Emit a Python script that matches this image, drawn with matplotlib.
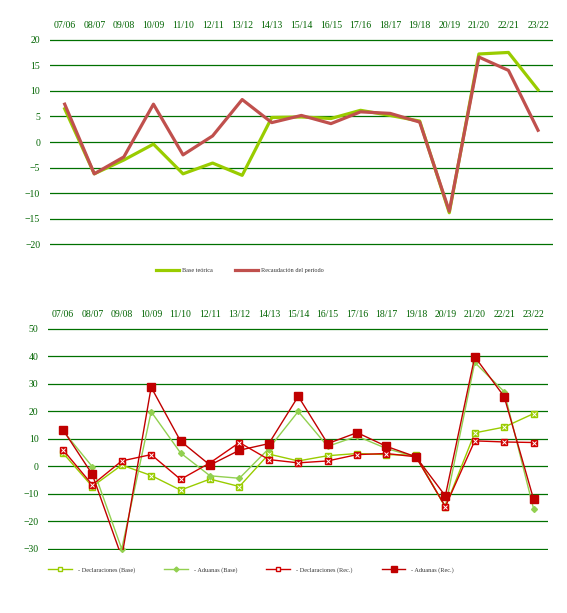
import matplotlib.pyplot as plt
from matplotlib.lines import Line2D

periodos = ["07/06", "08/07", "09/08", "10/09", "11/10", "12/11", "13/12", "14/13", "15/14",
            "16/15", "17/16", "18/17", "19/18", "20/19", "21/20", "22/21", "23/22"]

# grafico superior
base_teorica = [6.5, -6.2, -3.5, -0.4, -6.2, -4.1, -6.5, 4.8, 4.9, 4.6, 6.2, 5.2, 4.1, -13.8, 17.2, 17.5, 10.2]
recaudacion = [7.4, -6.2, -2.9, 7.4, -2.5, 1.2, 8.3, 3.8, 5.2, 3.6, 5.9, 5.6, 3.9, -13.5, 16.6, 14.0, 2.3]

# grafico inferior
decl_base = [4.9, -7.3, 0.5, -3.3, -8.6, -4.6, -7.3, 4.5, 2.0, 3.9, 4.7, 4.3, 4.1, -14.8, 12.2, 14.3, 19.2]
adu_base = [13.0, -0.1, -30.0, 19.9, 4.9, -3.4, -4.3, 6.5, 20.0, 7.3, 11.0, 6.5, 3.5, -14.6, 37.8, 27.2, -15.4]
decl_rec = [6.1, -6.7, 2.0, 4.3, -4.7, 1.3, 8.7, 2.5, 1.3, 2.0, 4.3, 4.7, 3.5, -14.6, 9.3, 8.9, 8.7]
adu_rec = [13.4, -2.9, -33.0, 28.8, 9.2, 0.5, 5.9, 8.3, 25.5, 8.3, 12.3, 7.3, 3.5, -10.7, 39.9, 25.4, -11.9]

VERDE_TXT = "#006400"
VERDE_GRID = "#007000"
plt.rcParams['font.family'] = ['Liberation Serif', 'DejaVu Serif']

fig = plt.figure(figsize=(5.67, 6.13), dpi=100)
x = list(range(len(periodos)))


def preparar(ax, ymin, ymax, paso, margen):
    ax.set_xlim(-0.5, len(periodos) - 0.5)
    ax.set_ylim(ymin - margen, ymax + margen)   # margen para que no se corte la ultima linea
    ax.set_yticks(range(ymin, ymax + 1, paso))
    ax.set_xticks(x)
    ax.set_xticklabels(periodos)
    ax.xaxis.tick_top()
    ax.tick_params(length=0, labelsize=7, colors=VERDE_TXT)
    ax.tick_params(axis='x', pad=6)
    ax.tick_params(axis='y', pad=7)
    for s in ax.spines.values():
        s.set_visible(False)
    ax.grid(axis='y', color=VERDE_GRID, lw=0.9)
    ax.set_axisbelow(True)


# --- arriba ---
ax1 = fig.add_axes([0.088, 0.5995, 0.887, 0.3375])
preparar(ax1, -20, 20, 5, 0.2)
ax1.plot(x, base_teorica, color="#99cc00", lw=2.3, label="Base teórica")
ax1.plot(x, recaudacion, color="#c0504d", lw=2.3, label="Recaudación del período")
fig.legend(*ax1.get_legend_handles_labels(), loc='center', bbox_to_anchor=(0.423, 0.559), ncol=2,
           frameon=False, fontsize=4.5, handlelength=3.7, columnspacing=3.4, handletextpad=0.5,
           labelcolor="#333333")

# --- abajo ---
ax2 = fig.add_axes([0.085, 0.1027, 0.882, 0.3625])
preparar(ax2, -30, 50, 10, 0.4)
c_db, c_ab, c_dr, c_ar = "#99cc00", "#92d050", "#d00000", "#c00000"
ax2.plot(x, decl_base, color=c_db, lw=1, marker='s', ms=5, mfc=c_db, mec=c_db, clip_on=False)
ax2.plot(x, decl_base, ls='none', marker='x', ms=3, mew=0.7, mec='white', clip_on=False)
ax2.plot(x, adu_base, color=c_ab, lw=1, marker='D', ms=3, mfc=c_ab, mec=c_ab, clip_on=False)
ax2.plot(x, decl_rec, color=c_dr, lw=1, marker='s', ms=5, mfc=c_dr, mec=c_dr, clip_on=False)
ax2.plot(x, decl_rec, ls='none', marker='x', ms=3, mew=0.7, mec='white', clip_on=False)
ax2.plot(x, adu_rec, color=c_ar, lw=1, marker='s', ms=5.5, mfc=c_ar, mec=c_ar)

handles = [
    Line2D([], [], color=c_db, lw=1, marker='s', ms=3, mfc='white', mec=c_db),
    Line2D([], [], color=c_ab, lw=1, marker='D', ms=2.5, mfc=c_ab, mec=c_ab),
    Line2D([], [], color=c_dr, lw=1, marker='s', ms=3, mfc='white', mec=c_dr),
    Line2D([], [], color=c_ar, lw=1, marker='s', ms=4, mfc=c_ar, mec=c_ar),
]
labels = ["- Declaraciones (Base)", "- Aduanas (Base)", "- Declaraciones (Rec.)", "- Aduanas (Rec.)"]
fig.legend(handles, labels, loc='center left', bbox_to_anchor=(0.075, 0.0705), ncol=4,
           frameon=False, fontsize=4.5, handlelength=3.8, columnspacing=4.7, handletextpad=0.9,
           labelcolor="#333333")

fig.savefig("out.png", dpi=100)
